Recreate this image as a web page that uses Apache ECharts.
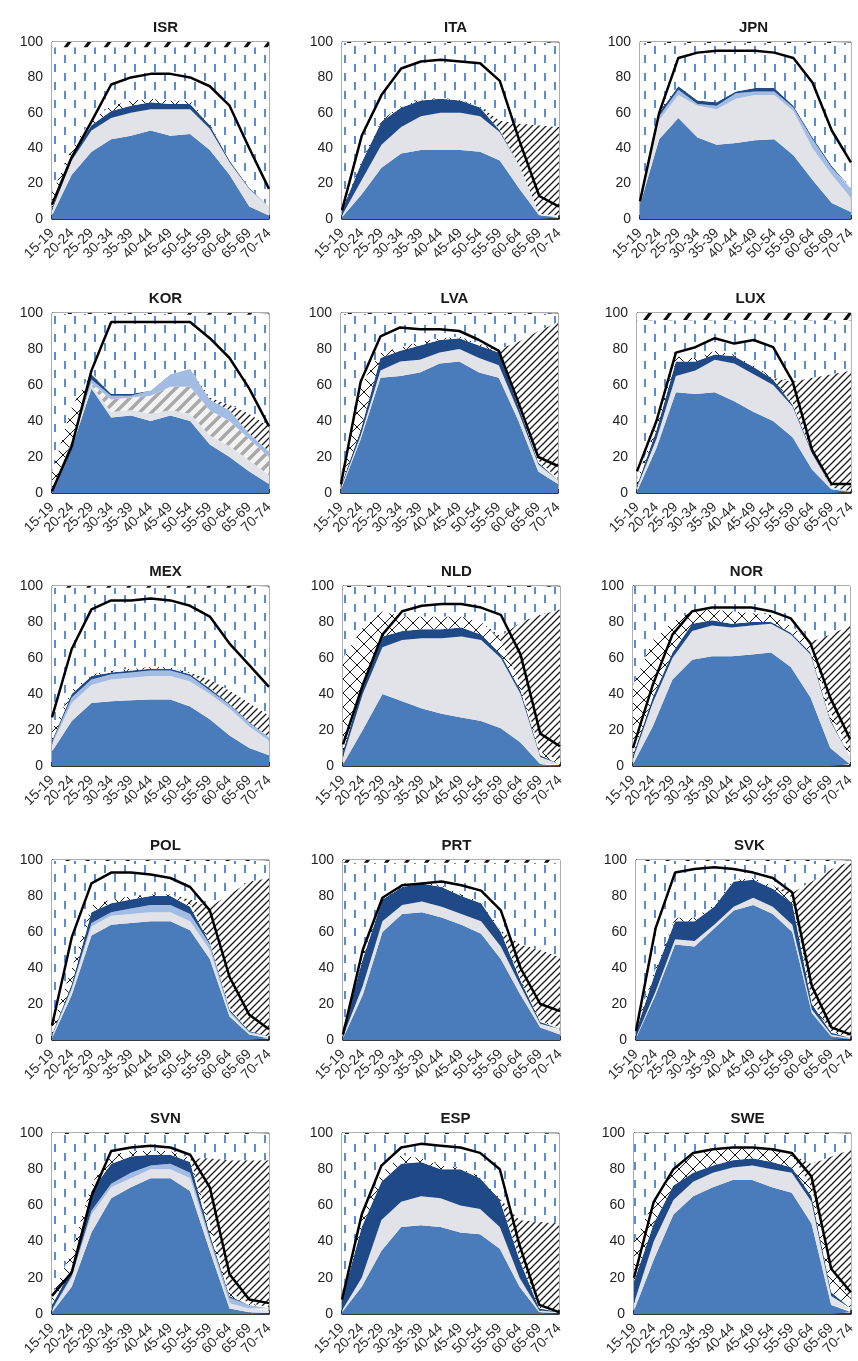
<!DOCTYPE html>
<html><head><meta charset="utf-8">
<script src="https://cdn.jsdelivr.net/npm/echarts@6/dist/echarts.min.js"></script>
<style>html,body{margin:0;padding:0;background:#fff}#c{width:858px;height:1361px}</style>
</head><body><div id="c"></div>
<script>
// ---------- data ----------
const ageGroups = ['15-19','20-24','25-29','30-34','35-39','40-44','45-49','50-54','55-59','60-64','65-69','70-74'];
const countries = ['ISR','ITA','JPN','KOR','LVA','LUX','MEX','NLD','NOR','POL','PRT','SVK','SVN','ESP','SWE'];
const yTickValues = [0,20,40,60,80,100];

// ft: full-time employed, pt: part-time employed, oth: other employed (KOR),
// lb: employed, other hours, un: unemployed, stu: in education,
// ret: retired, ina: other inactive, mis: not reported, part: participation rate (line)
const ISR_ft  = [2,25,38,45,47,50,47,48,39,25,7,2];
const ISR_pt  = [3,8,12,12,13,12,15,14,12,7,10,5];
const ISR_un  = [1,3,3,4,4,4,3,3,2,1,0.5,0];
const ISR_stu = [9,4,3,3,3,2,2,2,1,0,0,0];
const ISR_ina = [82,57,41,33,30,29,30,30,43,64,79.5,90];
const ISR_mis = [3,3,3,3,3,3,3,3,3,3,3,3];
const ISR_part = [8,35,55,76,80,82,82,80,75,64,40,17];

const ITA_ft  = [1,14,29,37,39,39,39,38,33,17,2,1];
const ITA_pt  = [1,8,13,15,19,21,21,20,16,13,1,1];
const ITA_un  = [3,10,13,11,9,8,7,5,1,0,0,0];
const ITA_stu = [1,1,1,1,0.5,0.5,0.5,0.5,0.5,0,0,0];
const ITA_ret = [0,0,0,0,0,0,0,0,5,24,50,50];
const ITA_ina = [93.5,66.5,43.5,35.5,32,31,32,36,44,45.5,46.5,47.5];
const ITA_mis = [0.5,0.5,0.5,0.5,0.5,0.5,0.5,0.5,0.5,0.5,0.5,0.5];
const ITA_part = [5,47,70,85,89,90,89,88,78,44,13,7];

const JPN_ft  = [8,45,57,46,42,43,44.5,45,36,22,9,4];
const JPN_pt  = [1,11,13,18,20,25,25.5,25,25,18,16,8];
const JPN_lb  = [0.5,2,3,1,2,3,2,2,2,5,4,5];
const JPN_un  = [0.5,2,2,2,2,1,2,2,1,1,1,0.5];
const JPN_stu = [1,2,0,0,0,0,0,0,0,0,0,0];
const JPN_ina = [88.5,37.5,24.5,32.5,33.5,27.5,25.5,25.5,35.5,53.5,69.5,82];
const JPN_mis = [0.5,0.5,0.5,0.5,0.5,0.5,0.5,0.5,0.5,0.5,0.5,0.5];
const JPN_part = [10,60,91,94,95,95,95,94,91,77,50,32];

const KOR_ft  = [0,25,58,42,43,40,43,40,27,20,12,5];
const KOR_pt  = [0.5,1,2,3,3,4,3,4,5,6,6,5];
const KOR_oth = [0.5,1,1,7,7,10,13,15,14,14,12,10];
const KOR_lb  = [0.5,1,2,2,1,3,7,10,6,6,3,3];
const KOR_un  = [0.5,1,3,1,1,0,0,0,0,0,0,0];
const KOR_stu = [10,19,1,0,0,0,0,0,0,0,0,0];
const KOR_ret = [0,0,0,0,0,0,0,0,1,3,11,14];
const KOR_ina = [87.5,51.5,32.5,44.5,44.5,42.5,33.5,30,46,50,55,62];
const KOR_mis = [0.5,0.5,0.5,0.5,0.5,0.5,0.5,1,1,1,1,1];
const KOR_part = [1,26,68,95,95,95,95,95,86,75,58,37];

const LVA_ft  = [2,30,64,65,67,72,73,67,64,40,12,5];
const LVA_pt  = [1,2,4,8,7,6,7,8,7,5,4,2];
const LVA_un  = [1,3,7,6,8,7,6,7,7,3,1,0];
const LVA_stu = [6,25,3,2,2,1,1,1,1,1,1,1];
const LVA_ret = [0,0,0,0,0,0,0,0,1,35,72,87];
const LVA_ina = [89.5,39.5,21.5,18.5,15.5,13.5,12.5,16.5,19.5,15.5,9.5,4.5];
const LVA_mis = [0.5,0.5,0.5,0.5,0.5,0.5,0.5,0.5,0.5,0.5,0.5,0.5];
const LVA_part = [5,62,87,92,91,91,90,85,79,50,20,15];

const LUX_ft  = [1,25,56,55,56,51,45,40,31,13,2,1];
const LUX_pt  = [2,5,9,13,18,21,21,20,17,9,1,0];
const LUX_un  = [1,5,8,5,3,4,4,3,1,1,0,0];
const LUX_stu = [4,3,3,2,2,1,1,1,1,0,0,0];
const LUX_ret = [0,0,0,0,0,0,0,0,12,41,63,67];
const LUX_ina = [88,58,20,21,17,19,25,32,34,32,30,28];
const LUX_mis = [4,4,4,4,4,4,4,4,4,4,4,4];
const LUX_part = [12,40,78,81,86,83,85,81,62,24,5,5];

const MEX_ft  = [8,25,35,36,36.5,37,37,33,26,17,10,6];
const MEX_pt  = [4,10,10,12,12.5,13,13,14,14,15,12,8];
const MEX_lb  = [1,3,3,3,3,3,3,3,2,2,2,2];
const MEX_un  = [1,2,2,1,1,1,1,1,1,0.5,0.5,0];
const MEX_stu = [6,2,1,1,1,1,1,0.5,0.5,0,0,0];
const MEX_ret = [0,0,0,0,0,0,0,0.5,4.5,7.5,10.5,12];
const MEX_ina = [79,57,48,46,45,44,44,47,51,57,64,71];
const MEX_mis = [1,1,1,1,1,1,1,1,1,1,1,1];
const MEX_part = [27,65,87,92,92,93,92,89,83,68,56,44];

const NLD_ft  = [1,20,40,36,32,29,27,25,21,13,1,0];
const NLD_pt  = [4,20,26,34,39,42,45,45,39,27,4,1];
const NLD_un  = [3,5,6,5,5,5,5,3,2,2,1,0];
const NLD_stu = [52,32,14,8,7,7,6,7,8,3,2,2];
const NLD_ret = [0,0,0,0,0,0,0,0,2,35,76,84];
const NLD_ina = [39.5,22.5,13.5,16.5,16.5,16.5,16.5,19.5,27.5,19.5,15.5,12.5];
const NLD_mis = [0.5,0.5,0.5,0.5,0.5,0.5,0.5,0.5,0.5,0.5,0.5,0.5];
const NLD_part = [12,45,73,86,89,90,90,88,84,62,18,11];

const NOR_ft  = [1,22,48,59,61,61,62,63,55,38,10,1];
const NOR_pt  = [3,13,12,16,17,16,16,16,18,24,15,4];
const NOR_un  = [2,3,3,4,3,2,2,1,1,1,1,0];
const NOR_stu = [39,32,17,7,6,7,5,4,4,5,4,3];
const NOR_ret = [0,0,0,0,0,0,0,0,0,1,43,70];
const NOR_ina = [55,30,20,14,13,14,15,16,22,31,27,22];
const NOR_part = [10,45,73,86,88,88,88,86,82,68,38,15];

const POL_ft  = [1,25,58,64,65,66,66,61,45,13,3,1];
const POL_pt  = [1,3,5,5,5,5,5,5,5,2,1,0];
const POL_lb  = [0.5,1,2,2,3,4,4,4,3,1,0.5,0.5];
const POL_un  = [0.5,2,6,5,5,5,5,4,1,1,0.5,0.5];
const POL_stu = [5,9,4,2,2,1,1,2,1,1,0,0];
const POL_ret = [0,0,0,0,0,0,0,2,19,63,83,88];
const POL_ina = [91.5,59.5,24.5,21.5,19.5,18.5,18.5,21.5,25.5,18.5,11.5,9.5];
const POL_mis = [0.5,0.5,0.5,0.5,0.5,0.5,0.5,0.5,0.5,0.5,0.5,0.5];
const POL_part = [8,57,87,93,93,92,90,85,72,35,14,6];

const PRT_ft  = [1,25,60,70,71,68,64,59,45,25,7,3];
const PRT_pt  = [1,5,6,5,6,6,6,7,7,5,2,2];
const PRT_un  = [3,15,12,10,10,11,10,10,8,3,1,1];
const PRT_stu = [1,5,2,1,0.5,1,1,1,1,1,1,1];
const PRT_ret = [0,0,0,0,0,0,0,0,0,19,39,39];
const PRT_ina = [92.5,48.5,18.5,12.5,11,12.5,17.5,21.5,37.5,45.5,48.5,52.5];
const PRT_mis = [1.5,1.5,1.5,1.5,1.5,1.5,1.5,1.5,1.5,1.5,1.5,1.5];
const PRT_part = [3,50,79,86,87,88,86,83,72,40,20,16];

const SVK_ft  = [1,25,53,52,62,72,75,70,60,15,2,1];
const SVK_pt  = [0.5,2,3,3,2,2,4,4,4,2,1,0];
const SVK_un  = [3.5,11,10,11,10,14,10,10,12,3,1,0];
const SVK_stu = [3,2,2,2,1,1,1,2,3,2,1,1];
const SVK_ret = [0,0,0,0,0,0,0,0,3,66,90,97.5];
const SVK_ina = [91.5,59.5,31.5,31.5,24.5,10.5,9.5,13.5,17.5,11.5,4.5,0];
const SVK_mis = [0.5,0.5,0.5,0.5,0.5,0.5,0.5,0.5,0.5,0.5,0.5,0.5];
const SVK_part = [5,62,93,95,96,95,93,90,82,30,7,3];

const SVN_ft  = [1,15,45,64,70,75,75,68,35,3,1,0.5];
const SVN_pt  = [1,5,10,6,5,5,5,7,5,3,2,1.5];
const SVN_lb  = [0.5,1,2,2,3,2,3,3,2,3,2,1];
const SVN_un  = [2.5,4,11,11,9,6,5,6,2,1,0,0];
const SVN_stu = [5,10,4,5,3,2,2,2,6,2,1,1];
const SVN_ret = [0,0,0,0,0,0,0,0,36,73,79,81];
const SVN_ina = [89.5,64.5,27.5,11.5,9.5,9.5,9.5,13.5,13.5,14.5,14.5,14.5];
const SVN_mis = [0.5,0.5,0.5,0.5,0.5,0.5,0.5,0.5,0.5,0.5,0.5,0.5];
const SVN_part = [10,23,65,90,92,93,92,88,70,22,8,6];

const ESP_ft  = [1,15,35,48,49,48,45,44,36,15,1,0.5];
const ESP_pt  = [1,5,17,14,16,16,15,14,12,5,1,0.5];
const ESP_un  = [6,28,21,21,19,16,20,17,15,10,1,0];
const ESP_stu = [4,7,5,5,2,2,1,1,1,1,1,1];
const ESP_ret = [0,0,0,0,0,0,0,0,0,21,47,48];
const ESP_ina = [87.5,44.5,21.5,11.5,13.5,17.5,18.5,23.5,35.5,47.5,48.5,49.5];
const ESP_mis = [0.5,0.5,0.5,0.5,0.5,0.5,0.5,0.5,0.5,0.5,0.5,0.5];
const ESP_part = [8,55,82,92,94,93,92,89,80,38,5,1];

const SWE_ft  = [2,30,55,65,70,74,74,70,67,50,5,1];
const SWE_pt  = [4,10,8,8,8,7,8,10,11,12,5,1];
const SWE_un  = [12,10,8,5,4,4,4,4,3,3,2,1];
const SWE_stu = [22,12,9,10,9,7,6,7,7,5,13,5];
const SWE_ret = [0,0,0,0,0,0,0,0,0,13,62,83];
const SWE_ina = [59.5,37.5,19.5,11.5,8.5,7.5,7.5,8.5,11.5,16.5,12.5,8.5];
const SWE_mis = [0.5,0.5,0.5,0.5,0.5,0.5,0.5,0.5,0.5,0.5,0.5,0.5];
const SWE_part = [20,62,80,89,91,92,92,91,89,76,25,12];

// ---------- lookup built from the arrays ----------
const DATA = {
  ISR:{ft:ISR_ft,pt:ISR_pt,un:ISR_un,stu:ISR_stu,ina:ISR_ina,mis:ISR_mis,part:ISR_part},
  ITA:{ft:ITA_ft,pt:ITA_pt,un:ITA_un,stu:ITA_stu,ret:ITA_ret,ina:ITA_ina,mis:ITA_mis,part:ITA_part},
  JPN:{ft:JPN_ft,pt:JPN_pt,lb:JPN_lb,un:JPN_un,stu:JPN_stu,ina:JPN_ina,mis:JPN_mis,part:JPN_part},
  KOR:{ft:KOR_ft,pt:KOR_pt,oth:KOR_oth,lb:KOR_lb,un:KOR_un,stu:KOR_stu,ret:KOR_ret,ina:KOR_ina,mis:KOR_mis,part:KOR_part},
  LVA:{ft:LVA_ft,pt:LVA_pt,un:LVA_un,stu:LVA_stu,ret:LVA_ret,ina:LVA_ina,mis:LVA_mis,part:LVA_part},
  LUX:{ft:LUX_ft,pt:LUX_pt,un:LUX_un,stu:LUX_stu,ret:LUX_ret,ina:LUX_ina,mis:LUX_mis,part:LUX_part},
  MEX:{ft:MEX_ft,pt:MEX_pt,lb:MEX_lb,un:MEX_un,stu:MEX_stu,ret:MEX_ret,ina:MEX_ina,mis:MEX_mis,part:MEX_part},
  NLD:{ft:NLD_ft,pt:NLD_pt,un:NLD_un,stu:NLD_stu,ret:NLD_ret,ina:NLD_ina,mis:NLD_mis,part:NLD_part},
  NOR:{ft:NOR_ft,pt:NOR_pt,un:NOR_un,stu:NOR_stu,ret:NOR_ret,ina:NOR_ina,part:NOR_part},
  POL:{ft:POL_ft,pt:POL_pt,lb:POL_lb,un:POL_un,stu:POL_stu,ret:POL_ret,ina:POL_ina,mis:POL_mis,part:POL_part},
  PRT:{ft:PRT_ft,pt:PRT_pt,un:PRT_un,stu:PRT_stu,ret:PRT_ret,ina:PRT_ina,mis:PRT_mis,part:PRT_part},
  SVK:{ft:SVK_ft,pt:SVK_pt,un:SVK_un,stu:SVK_stu,ret:SVK_ret,ina:SVK_ina,mis:SVK_mis,part:SVK_part},
  SVN:{ft:SVN_ft,pt:SVN_pt,lb:SVN_lb,un:SVN_un,stu:SVN_stu,ret:SVN_ret,ina:SVN_ina,mis:SVN_mis,part:SVN_part},
  ESP:{ft:ESP_ft,pt:ESP_pt,un:ESP_un,stu:ESP_stu,ret:ESP_ret,ina:ESP_ina,mis:ESP_mis,part:ESP_part},
  SWE:{ft:SWE_ft,pt:SWE_pt,un:SWE_un,stu:SWE_stu,ret:SWE_ret,ina:SWE_ina,mis:SWE_mis,part:SWE_part}
};

// ---------- patterns ----------
function pattern(w, h, bg, draw) {
  const c = document.createElement('canvas');
  c.width = w; c.height = h;
  const g = c.getContext('2d');
  g.fillStyle = bg; g.fillRect(0, 0, w, h);
  draw(g, w, h);
  return { image: c, repeat: 'repeat' };
}
function diag(g, w, h) { // "/" lines tiling seamlessly
  g.beginPath();
  g.moveTo(-1, h + 1); g.lineTo(w + 1, -1);
  g.moveTo(-w/2 - 1, h/2 + 1); g.lineTo(w/2 + 1, -h/2 - 1);
  g.moveTo(w/2 - 1, h * 1.5 + 1); g.lineTo(w * 1.5 + 1, h/2 - 1);
  g.stroke();
}
const patDashes = pattern(20, 18, '#ffffff', g => {
  g.fillStyle = '#5b8bd2';
  g.fillRect(4, 1, 2, 8);
  g.fillRect(14, 10, 2, 8);
});
const patHatch = pattern(7, 7, '#ffffff', (g, w, h) => { g.strokeStyle = '#1a1a1a'; g.lineWidth = 1.3; diag(g, w, h); });
const patCross = pattern(14, 14, '#ffffff', (g, w, h) => {
  g.strokeStyle = '#1a1a1a'; g.lineWidth = 1;
  g.beginPath();
  g.moveTo(0, 0); g.lineTo(w, h);
  g.moveTo(0, h); g.lineTo(w, 0);
  g.stroke();
});
const patStripe = pattern(12, 12, '#f3f3f3', (g, w, h) => { g.strokeStyle = '#a9a9a9'; g.lineWidth = 3.5; diag(g, w, h); });
const patMissing = pattern(20, 8, '#ffffff', g => {
  g.fillStyle = '#111';
  g.beginPath(); g.moveTo(3, 8); g.lineTo(7, 8); g.lineTo(13, 0); g.lineTo(9, 0); g.closePath(); g.fill();
});

const LAYERS = [
  { key: 'ft',  name: 'Employed full-time', color: '#4a7cbc' },
  { key: 'pt',  name: 'Employed part-time', color: '#e1e3e8' },
  { key: 'oth', name: 'Employed, other',    color: patStripe },
  { key: 'lb',  name: 'Employed, hours n.a.', color: '#a3bce3' },
  { key: 'un',  name: 'Unemployed',         color: '#1f4a87' },
  { key: 'stu', name: 'In education',       color: patCross },
  { key: 'ret', name: 'Retired',            color: patHatch },
  { key: 'ina', name: 'Other inactive',     color: patDashes },
  { key: 'mis', name: 'Not reported',       color: patMissing }
];

// ---------- layout ----------
const rowTops = [42, 313, 586, 860, 1133];
const rowHeights = [177, 180, 180, 180, 181];
const colLefts = [[52, 342, 640], [52, 341, 637], [52, 343, 633], [52, 343, 636], [52, 342, 634]];
const plotW = 217;
const FONT = "'Liberation Sans', Arial, sans-serif";

const grids = [], xAxes = [], yAxes = [], titles = [], series = [];
countries.forEach((cc, i) => {
  const r = Math.floor(i / 3), c = i % 3;
  const left = colLefts[r][c], top = rowTops[r], h = rowHeights[r];
  grids.push({ left: left, top: top, width: plotW, height: h, show: true, borderColor: '#5a5a5a', borderWidth: 1, backgroundColor: 'transparent' });
  titles.push({ text: cc, left: left + plotW / 2, top: top - 27, textAlign: 'center',
    textStyle: { fontSize: 15, fontWeight: 'bold', color: '#1a1a1a', fontFamily: FONT } });
  xAxes.push({ type: 'category', gridIndex: i, data: ageGroups, boundaryGap: false,
    axisLine: { show: true, lineStyle: { color: '#111', width: 1.5 } },
    axisTick: { show: true, inside: true, length: 4, lineStyle: { color: '#111', width: 1.5 } },
    axisLabel: { rotate: 45, interval: 0, fontSize: 14, color: '#2a2a2a', margin: 12, fontFamily: FONT },
    splitLine: { show: false } });
  yAxes.push({ type: 'value', gridIndex: i, min: yTickValues[0], max: yTickValues[yTickValues.length - 1], interval: 20,
    axisLine: { show: true, lineStyle: { color: '#111', width: 1 } },
    axisTick: { show: false },
    axisLabel: { fontSize: 14, color: '#222', margin: 9, fontFamily: FONT },
    splitLine: { show: false } });
  const d = DATA[cc];
  LAYERS.forEach(L => {
    if (!d[L.key]) return;
    series.push({ type: 'line', name: L.name, xAxisIndex: i, yAxisIndex: i, stack: 'total' + i,
      data: d[L.key], symbol: 'none', silent: true, z: 2,
      lineStyle: { width: 0 }, itemStyle: { color: typeof L.color === 'string' ? L.color : '#888' },
      areaStyle: { color: L.color, opacity: 1 } });
  });
  series.push({ type: 'line', name: 'Participation rate', xAxisIndex: i, yAxisIndex: i, data: d.part,
    symbol: 'none', silent: true, z: 5, lineStyle: { color: '#000', width: 2.5 } });
});

const chart = echarts.init(document.getElementById('c'), null, { renderer: 'canvas' });
chart.setOption({ animation: false, backgroundColor: '#fff', title: titles, grid: grids, xAxis: xAxes, yAxis: yAxes, series: series });
</script>
</body></html>
